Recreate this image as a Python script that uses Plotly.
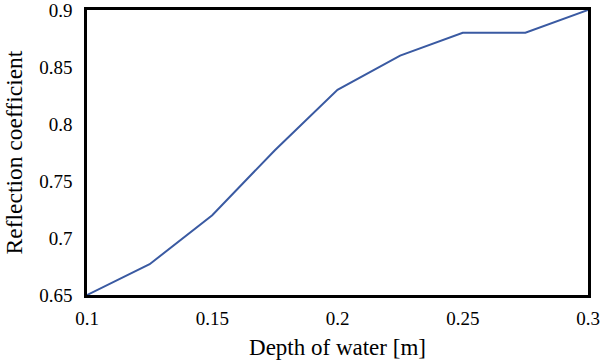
import plotly.graph_objects as go

depth = [0.1, 0.125, 0.15, 0.175, 0.2, 0.225, 0.25, 0.275, 0.3]
reflection = [0.65, 0.677, 0.72, 0.777, 0.83, 0.86, 0.88, 0.88, 0.9]

x_ticks = [0.1, 0.15, 0.2, 0.25, 0.3]
x_labels = ["0.1", "0.15", "0.2", "0.25", "0.3"]
y_ticks = [0.65, 0.7, 0.75, 0.8, 0.85, 0.9]
y_labels = ["0.65", "0.7", "0.75", "0.8", "0.85", "0.9"]

fig = go.Figure(go.Scatter(x=depth, y=reflection, mode="lines",
                           line=dict(color="#3A5AA2", width=2)))

FAM = "Liberation Serif, Times New Roman, DejaVu Serif, serif"
fig.update_layout(
    width=600, height=362,
    margin=dict(l=87, r=12, t=10, b=67, autoexpand=False),
    paper_bgcolor="white", plot_bgcolor="white",
    showlegend=False,
    font=dict(family=FAM, color="black", size=19),
)
fig.update_xaxes(range=[0.1, 0.3], tickvals=x_ticks, ticktext=x_labels,
                 showgrid=False, zeroline=False, showline=True, mirror=True,
                 linecolor="black", linewidth=2.5, ticks="", automargin=False,
                 ticklabelstandoff=4, ticklabeloverflow="allow",
                 tickfont=dict(family=FAM, size=19, color="black"),
                 title=dict(text="Depth of water [m]", font=dict(family=FAM, size=23, color="black"), standoff=12))
fig.update_yaxes(range=[0.65, 0.9], tickvals=y_ticks, ticktext=y_labels,
                 showgrid=False, zeroline=False, showline=True, mirror=True,
                 linecolor="black", linewidth=2.5, ticks="", automargin=False,
                 ticklabelstandoff=8, ticklabeloverflow="allow",
                 tickfont=dict(family=FAM, size=19, color="black"),
                 title=dict(text="Reflection coefficient", font=dict(family=FAM, size=23.5, color="black"), standoff=10))
fig.write_html("out.html", config={"displayModeBar": False},
               post_script="document.body.style.margin='0px';document.body.style.overflow='hidden';")
